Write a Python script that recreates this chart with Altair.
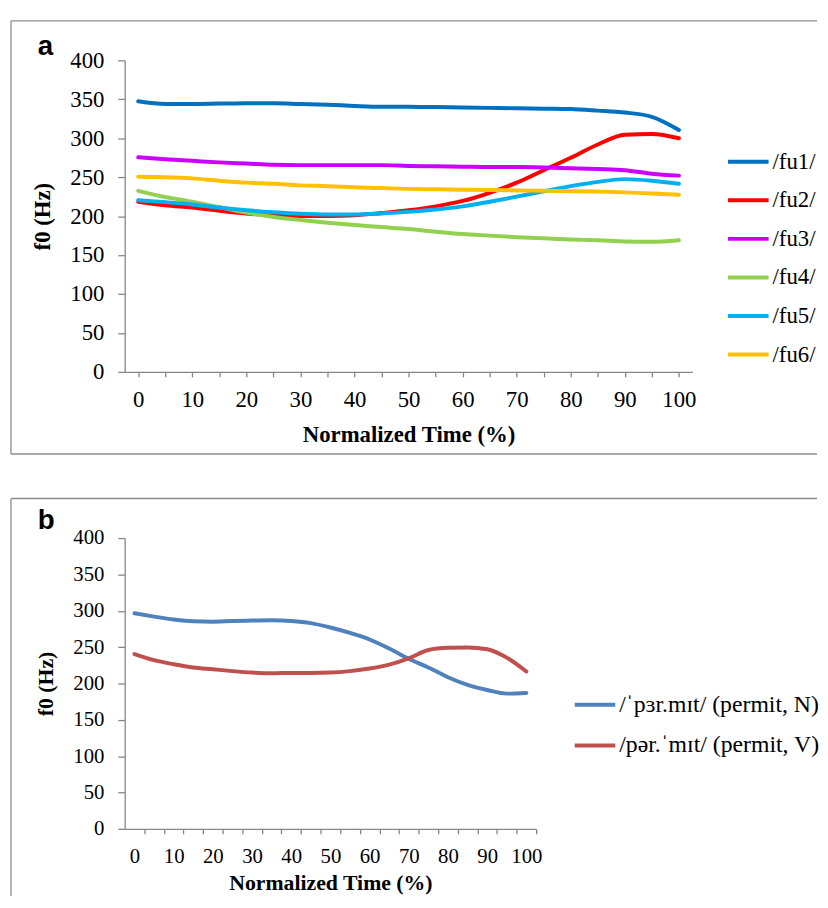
import altair as alt
import pandas as pd

# ---------------- data ----------------
time = list(range(0, 101, 5))

series_a = ["/fu1/", "/fu2/", "/fu3/", "/fu4/", "/fu5/", "/fu6/"]
colors_a = ["#0070C0", "#FF0000", "#CC00FF", "#92D050", "#00B0F0", "#FFC000"]

fu1 = [347.5, 344, 344, 344.5, 345, 345, 344, 343, 341.5, 340.5, 340.5,
       340, 339.5, 339, 338.5, 338, 337.5, 335.5, 333, 327.5, 310.5]
fu2 = [218.5, 214, 211, 207, 203.5, 201, 200, 200, 201, 204, 207.5,
       212.5, 219.5, 230, 243, 259, 275, 292, 304.5, 305.5, 300]
fu3 = [275.5, 273, 271, 269, 267.5, 266, 265.5, 265.5, 265.5, 265.5, 264.5,
       264, 263.5, 263, 263, 262.5, 261.5, 260.5, 259, 254.5, 252]
fu4 = [232.5, 224.5, 218.5, 211.5, 204.5, 199, 195, 191.5, 188.5, 186, 183.5,
       180, 177, 175, 173, 171.5, 170, 169, 167.5, 167, 169]
fu5 = [220.5, 218, 215, 211, 207.5, 205, 203, 202, 202, 203.5, 205.5,
       208.5, 212.5, 218.5, 225, 232, 238.5, 244, 247.5, 245.5, 241.5]
fu6 = [250.5, 250, 248.5, 245.5, 243, 241.5, 239.5, 238.5, 237, 236, 235,
       234.5, 234, 233.5, 233, 232.5, 232, 231.5, 230.5, 229, 227.5]

series_b = ["/\u02c8p\u025cr.m\u026at/ (permit, N)", "/p\u0259r.\u02c8m\u026at/ (permit, V)"]
colors_b = ["#4F81BD", "#C0504D"]

permit_n = [296.5, 292, 288, 285.5, 285, 286, 286.5, 287, 286, 283, 277,
            269.5, 260.5, 248, 234, 222, 208.5, 198, 191, 186, 187]
permit_v = [240.5, 232, 226.5, 222, 219.5, 217, 215, 214, 214.5, 214.5, 215,
            217, 220.5, 226, 234.5, 246, 249, 249.5, 247, 235.5, 216.5]

y_ticks = list(range(0, 401, 50))

rows_a = []
for name, vals in zip(series_a, [fu1, fu2, fu3, fu4, fu5, fu6]):
    for t, v in zip(time, vals):
        rows_a.append({"time": t, "f0": v, "series": name})
df_a = pd.DataFrame(rows_a)

rows_b = []
for name, vals in zip(series_b, [permit_n, permit_v]):
    for t, v in zip(time, vals):
        rows_b.append({"time": t, "f0": v, "series": name})
df_b = pd.DataFrame(rows_b)

SERIF = "Liberation Serif"
SANS = "Liberation Sans"
AXC = "#868686"
BORDER = "#8C8C8C"
dummy = pd.DataFrame({"k": [0]})
label_expr = "datum.value % 10 === 0 ? datum.label : ''"


def panel(df, series, colors, letter, fs, lfs, tfs, legend_x, legend_y, row_pad,
          tick_offset, x_title_pad, left, top, right, bottom, letter_y):
    x_axis = alt.Axis(values=time, labelExpr=label_expr, title="Normalized Time (%)",
                      domainColor=AXC, domainWidth=1.3, tickColor=AXC, tickWidth=1.3,
                      tickSize=5, tickOffset=tick_offset, labelOffset=-tick_offset,
                      labelFont=SERIF, labelFontSize=fs, labelColor="black",
                      labelPadding=12, labelFlush=False, labelOverlap=False,
                      titleFont=SERIF, titleFontSize=tfs, titleFontWeight="bold",
                      titleColor="black", titlePadding=x_title_pad, grid=False)
    y_axis = alt.Axis(values=y_ticks, title="f0 (Hz)", domainColor=AXC, domainWidth=1.3,
                      tickColor=AXC, tickWidth=1.3, tickSize=7, labelFont=SERIF,
                      labelFontSize=fs, labelColor="black", labelPadding=14,
                      labelFlush=False, titleFont=SERIF, titleFontSize=tfs,
                      titleFontWeight="bold", titleColor="black", titlePadding=16,
                      grid=False)
    lines = alt.Chart(df).mark_line(strokeWidth=4, interpolate="monotone",
                                    strokeCap="round").encode(
        x=alt.X("time:Q", scale=alt.Scale(domain=[-2.5, 102.5], nice=False, zero=False),
                axis=x_axis),
        y=alt.Y("f0:Q", scale=alt.Scale(domain=[0, 400], nice=False), axis=y_axis),
        color=alt.Color("series:N", scale=alt.Scale(domain=series, range=colors),
                        title=None,
                        legend=alt.Legend(orient="none", legendX=legend_x, legendY=legend_y,
                                          symbolType="stroke", symbolSize=1681,
                                          symbolStrokeWidth=4, labelFont=SERIF,
                                          labelFontSize=lfs, labelColor="black",
                                          labelOffset=2, rowPadding=row_pad, padding=0,
                                          labelLimit=400)),
        order=alt.Order("time:Q"),
    )
    base = alt.Chart(dummy)
    parts = [lines]
    parts.append(base.mark_rule(color=BORDER, strokeWidth=1.3).encode(
        x=alt.value(left), x2=alt.value(right), y=alt.value(top)))
    parts.append(base.mark_rule(color=BORDER, strokeWidth=1.3).encode(
        x=alt.value(left), y=alt.value(top), y2=alt.value(bottom)))
    parts.append(base.mark_text(text=letter, font=SANS, fontSize=28, fontWeight="bold",
                                color="black", align="left", baseline="alphabetic").encode(
        x=alt.value(-88), y=alt.value(letter_y)))
    return parts


RIGHT = 700

parts_a = panel(df_a, series_a, colors_a, "a", 23, 23, 23, 608, 80, 4, 0, 12,
                -115, -40, RIGHT, 398, -5)
parts_a.append(alt.Chart(dummy).mark_rule(color=BORDER, strokeWidth=1.3).encode(
    x=alt.value(-115), x2=alt.value(RIGHT), y=alt.value(398)))
chart_a = alt.layer(*parts_a).properties(width=574, height=315)

parts_b = panel(df_b, series_b, colors_b, "b", 21, 24, 22, 453, 146, 6.2, 9.9, 6,
                -115, -40, RIGHT, 362, -9)
chart_b = alt.layer(*parts_b).properties(width=416, height=294)

chart = alt.vconcat(chart_a, chart_b, spacing=43).resolve_scale(
    x="independent", y="independent", color="independent"
).resolve_legend(color="independent").properties(
    padding={"left": 2, "top": 7, "right": 0, "bottom": -2}
).configure_view(stroke=None)

chart.save("out.html", embed_options={"renderer": "svg", "actions": False})
